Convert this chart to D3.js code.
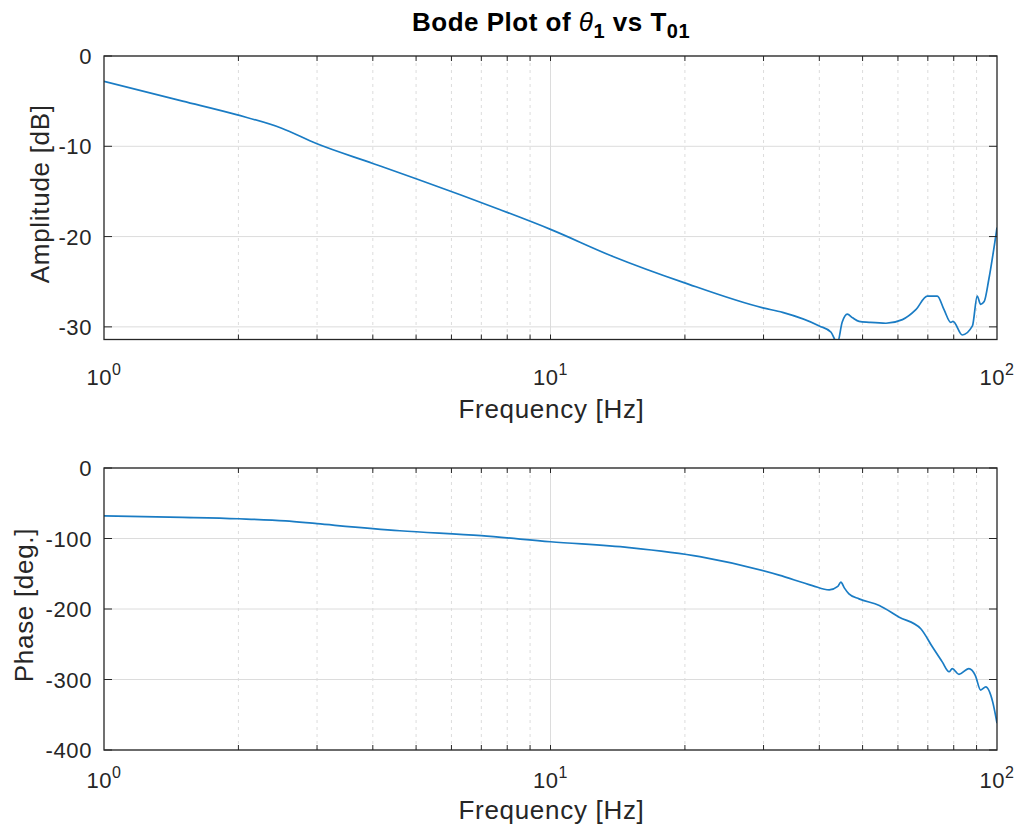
<!DOCTYPE html>
<html>
<head>
<meta charset="utf-8">
<script src="https://cdn.jsdelivr.net/npm/d3@7"></script>
<style>
  body { margin: 0; background: #fff; }
  svg { display: block; font-family: "Liberation Sans", Arial, sans-serif; }
  .tick-label { fill: #262626; font-size: 22px; letter-spacing: 0.6px; }
  .axis-label { fill: #262626; font-size: 26px; letter-spacing: 0.7px; }
  .title { fill: #000; font-size: 26px; font-weight: bold; letter-spacing: 0.5px; }
</style>
</head>
<body>
<script>
// Bode plot of theta_1 vs T_01 — magnitude on top, phase below.
// Values.

const freqMag = [1, 1.5, 1.98, 2.5, 2.99, 4.0, 5.0, 6.3, 7.69, 10, 13.8, 19.9, 29.9, 33.1, 40, 42.5, 43.9,
    45.0, 46.2, 47.5, 49.1, 51.7, 56.4, 61.4, 65.8, 69.8, 73.5, 76.1, 78.8, 79.7, 83.6, 88.1, 90.3,
    91.9, 93.6, 95.9, 100];
const magDb = [-2.8, -5.0, -6.5, -8.0, -9.7, -11.9, -13.6, -15.4, -17.0, -19.2, -22.2, -25.1, -27.9, -28.4,
    -29.9, -30.6, -31.8, -29.5, -28.6, -29.0, -29.4, -29.5, -29.6, -29.2, -28.1, -26.6, -26.6, -28.1,
    -29.5, -29.4, -30.9, -29.9, -26.6, -27.5, -27.2, -24.7, -19.0];

const freqPh = [1, 1.5, 2, 2.55, 3.0, 4.6, 7, 10, 15, 21.6, 32.5, 38.6, 42.1, 44.0, 44.7, 45.5, 46.6, 49.1,
    54.5, 60.4, 67.5, 71.7, 75.4, 78.1, 79.4, 82.2, 86.5, 89.4, 91.9, 94.4, 97.8, 100];
const phaseDeg = [-68, -70, -72, -75, -79, -89, -96, -104.6, -113, -125.8, -152, -166.8, -172.9, -168, -162,
    -170, -178.5, -185.6, -195, -211.6, -228, -254, -275, -289, -284.5, -292.6, -284.5, -294, -315,
    -310.5, -331.7, -362];

const magTicks = [0, -10, -20, -30];
const phaseTicks = [0, -100, -200, -300, -400];
const decades = [1, 10, 100];
const decadeExp = ["0", "1", "2"];

const W = 1021, H = 836;
const LINE_COLOR = "#1a7cc4";
const AXIS_COLOR = "#262626";
const GRID_COLOR = "#dcdcdc";

const svg = d3.select("body").append("svg").attr("width", W).attr("height", H);

// Minor decade positions 2..9, 20..90
const minor = [];
[1, 10].forEach((d) => { for (let k = 2; k <= 9; k++) minor.push(d * k); });

function panel(cfg) {
    const { top, bottom, yDomain, yTicks, freq, vals, yLabel, yLabelX, id, tickOff, labelOff } = cfg;
    const left = 104, right = 997;
    const x = d3.scaleLog().domain([1, 100]).range([left, right]);
    const y = d3.scaleLinear().domain(yDomain).range([bottom, top]);
    const g = svg.append("g");

    // grid
    g.selectAll("line.minor").data(minor).join("line")
        .attr("x1", x).attr("x2", x).attr("y1", top).attr("y2", bottom)
        .attr("stroke", GRID_COLOR).attr("stroke-width", 1).attr("stroke-dasharray", "3,4");
    g.selectAll("line.majx").data([10]).join("line")
        .attr("x1", x).attr("x2", x).attr("y1", top).attr("y2", bottom)
        .attr("stroke", GRID_COLOR).attr("stroke-width", 1);
    g.selectAll("line.majy").data(yTicks).join("line")
        .attr("x1", left).attr("x2", right).attr("y1", y).attr("y2", y)
        .attr("stroke", GRID_COLOR).attr("stroke-width", 1);

    // curve, clipped to the axes box
    svg.append("clipPath").attr("id", id).append("rect")
        .attr("x", left).attr("y", top).attr("width", right - left).attr("height", bottom - top);
    const pts = freq.map((f, i) => [f, vals[i]]);
    g.append("path").datum(pts)
        .attr("clip-path", `url(#${id})`)
        .attr("fill", "none").attr("stroke", LINE_COLOR).attr("stroke-width", 1.7)
        .attr("stroke-linejoin", "round")
        .attr("d", d3.line().curve(d3.curveMonotoneX).x((d) => x(d[0])).y((d) => y(d[1])));

    // ticks (inside, on all four sides)
    const allX = minor.concat([10]);
    const tx = 5, ty = 8;
    g.selectAll("line.tb").data(allX).join("line")
        .attr("x1", x).attr("x2", x).attr("y1", bottom).attr("y2", bottom - tx)
        .attr("stroke", AXIS_COLOR);
    g.selectAll("line.tt").data(allX).join("line")
        .attr("x1", x).attr("x2", x).attr("y1", top).attr("y2", top + tx)
        .attr("stroke", AXIS_COLOR);
    g.selectAll("line.tl").data(yTicks).join("line")
        .attr("x1", left).attr("x2", left + ty).attr("y1", y).attr("y2", y)
        .attr("stroke", AXIS_COLOR);
    g.selectAll("line.tr").data(yTicks).join("line")
        .attr("x1", right).attr("x2", right - ty).attr("y1", y).attr("y2", y)
        .attr("stroke", AXIS_COLOR);

    // box
    g.append("rect").attr("x", left).attr("y", top)
        .attr("width", right - left).attr("height", bottom - top)
        .attr("fill", "none").attr("stroke", AXIS_COLOR).attr("stroke-width", 1.3);

    // x tick labels 10^n
    const xl = g.selectAll("text.xt").data(decades).join("text")
        .attr("class", "tick-label")
        .attr("x", x).attr("y", bottom + tickOff).attr("text-anchor", "middle");
    xl.append("tspan").text("10");
    xl.append("tspan").attr("dy", -10).attr("font-size", 16).text((d, i) => decadeExp[i]);

    // y tick labels
    g.selectAll("text.yt").data(yTicks).join("text")
        .attr("class", "tick-label")
        .attr("x", left - 12).attr("y", (d) => y(d) + 8)
        .attr("text-anchor", "end").text((d) => d);

    g.append("text").attr("class", "axis-label")
        .attr("x", (left + right) / 2 + 1).attr("y", bottom + labelOff)
        .attr("text-anchor", "middle").text("Frequency [Hz]");

    g.append("text").attr("class", "axis-label")
        .attr("transform", `translate(${yLabelX},${(top + bottom) / 2 - 4}) rotate(-90)`)
        .attr("text-anchor", "middle").text(yLabel);
}

panel({ top: 56, bottom: 339.5, yDomain: [-31.4, 0], yTicks: magTicks, freq: freqMag, vals: magDb,
    yLabel: "Amplitude [dB]", yLabelX: 49, id: "clipMag", tickOff: 45, labelOff: 78 });
panel({ top: 468, bottom: 750, yDomain: [-400, 0], yTicks: phaseTicks, freq: freqPh, vals: phaseDeg,
    yLabel: "Phase [deg.]", yLabelX: 33, id: "clipPh", tickOff: 38, labelOff: 69 });

// title with italic theta and subscripts
const title = svg.append("text").attr("class", "title")
    .attr("x", 551).attr("y", 31).attr("text-anchor", "middle");
title.append("tspan").text("Bode Plot of ");
title.append("tspan").attr("font-style", "italic").attr("font-weight", "normal").text("\u03b8");
title.append("tspan").attr("dy", 7).attr("font-size", 20).text("1");
title.append("tspan").attr("dy", -7).text(" vs T");
title.append("tspan").attr("dy", 7).attr("font-size", 20).text("01");
</script>
</body>
</html>
